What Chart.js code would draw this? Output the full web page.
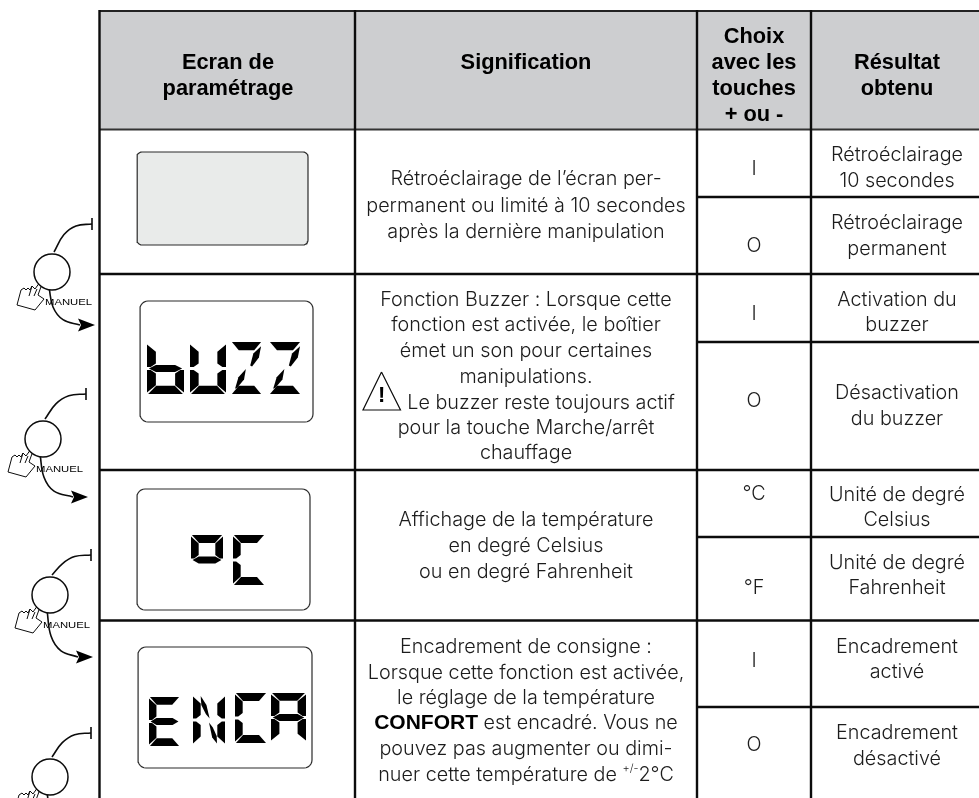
<!DOCTYPE html>
<html>
<head>
<meta charset="utf-8">
<style>html,body{margin:0;padding:0;background:#fff}canvas{display:block}</style>
<script src="https://cdn.jsdelivr.net/npm/chart.js@4"></script>
</head>
<body>
<canvas id="sheet" width="979" height="798"></canvas>
<script>
// table grid
const COL_X = [99.5, 355, 697, 811];
const ROW_Y = [274, 470, 620.5];
const SUB_ROW_Y = [197, 342, 537, 707];

// header
const HEAD_TEXT = ['Ecran de','paramétrage','Signification','Choix','avec les','touches','+ ou -','Résultat','obtenu'];
const HEAD_X = [228,228,526,754,754,754,754,897,897];
const HEAD_Y = [61,87,61,35,61,87,113,61,87];

// body text
const BODY_TEXT = [
  'Rétroéclairage de l’écran per-','permanent ou limité à 10 secondes','après la dernière manipulation',
  'Fonction Buzzer : Lorsque cette','fonction est activée, le boîtier','émet un son pour certaines','manipulations.','Le buzzer reste toujours actif','pour la touche Marche/arrêt','chauffage',
  'Affichage de la température','en degré Celsius','ou en degré Fahrenheit',
  'Encadrement de consigne :','Lorsque cette fonction est activée,','le réglage de la température','pouvez pas augmenter ou dimi-',
  'I','O','I','O','°C','°F','I','O',
  'Rétroéclairage','10 secondes','Rétroéclairage','permanent',
  'Activation du','buzzer','Désactivation','du buzzer',
  'Unité de degré','Celsius','Unité de degré','Fahrenheit',
  'Encadrement','activé','Encadrement','désactivé'
];
const BODY_X = [
  526,526,526,
  526,526,526,526,541,526,526,
  526,526,526,
  526,526,526,526,
  754,754,754,754,754,754,754,754,
  897,897,897,897,
  897,897,897,897,
  897,897,897,897,
  897,897,897,897
];
const BODY_Y = [
  178,205,231,
  299,324,350,376,402,427,452,
  519,545,571,
  646,672,697,748,
  168,245,313,400,493,587,660,744,
  154,180,222,248,
  299,324,392,418,
  494,519,562,587,
  646,671,732,758
];

// LCD screens
const SCREEN_L = [137,140,137,138];
const SCREEN_R = [308,313,310,312];
const SCREEN_T = [152,301,489,647];
const SCREEN_B = [245,422,610,768];
const SCREEN_RADIUS = [5,8,8,8];

const LCD_CHARS = ['b','U','Z','Z','°','C','E','N','C','A'];
const LCD_X = [147,190,231,269,191,233,149,193,235,271];
const LCD_Y = [343,343,342,342,535,535,697,695,693,693];
const LCD_W = [37,36,31,32,32,32,31,32,32,35];
const LCD_H = [51,51,52,52,50,50,49,50,50,49];

const SEG = {
  t:[[.03,0],[.97,0],[.75,.16],[.25,.16]],
  lu:[[0,.03],[.24,.17],[.24,.40],[.1,.47],[0,.47]],
  ll:[[0,.53],[.1,.53],[.24,.6],[.24,.83],[0,.97]],
  ru:[[1,.03],[.76,.17],[.76,.40],[.9,.47],[1,.47]],
  rl:[[1,.53],[.9,.53],[.76,.6],[.76,.83],[1,.97]],
  m:[[.05,.5],[.24,.43],[.76,.43],[.95,.5],[.76,.57],[.24,.57]],
  b:[[.25,.84],[.75,.84],[.97,1],[.03,1]],
  zu:[[.97,.08],[.9,.3],[.68,.47],[.62,.45],[.72,.22]],
  zl:[[.48,.52],[.42,.72],[.2,.88],[.13,.9],[.24,.68]],
  nu:[[.24,.02],[.42,.2],[.52,.47],[.4,.38],[.26,.2]],
  nl:[[.5,.55],[.62,.65],[.74,.82],[.75,.97],[.6,.85]]
};
const GLYPHS = {
  b:['lu','ll','m','b','rl'], U:['lu','ll','b','ru','rl'], Z:['t','zu','zl','b'],
  '°':['t','lu','ru','m'], C:['t','lu','ll','b'], E:['t','lu','m','ll','b'],
  N:['lu','ll','ru','rl','nu','nl'], A:['t','lu','ru','m','ll','rl']
};

// MANUEL knobs on the left
const KNOB_X = [52,43,50,50];
const KNOB_Y = [272,439,595,777];
const KNOB_TOP_DX = [40,43,41,41];
const KNOB_TOP_DY = [-48,-45,-40,-44];
const KNOB_TIP_DX = [43,45,43,43];
const KNOB_TIP_DY = [53,58,62,60];
const KNOB_RADIUS = 18;
const HAND = [[-35,33],[-31,18],[-28,16],[-26,18],[-24,16],[-22,18],[-20,14],[-17,17],[-12,10],[-10,12],[-14,23],[-8,27],[-17,38],[-35,33]];

const INK = '#0c0c0c';
const sets = [];
const addLine = (pts, color, width, extra) => sets.push(Object.assign({
  data: pts.map(p => ({x:p[0], y:p[1]})), borderColor:color, borderWidth:width, pointRadius:0, fill:false, tension:0
}, extra || {}));
const addPoly = (pts, color, stroke, width) => sets.push({
  data: pts.map(p => ({x:p[0], y:p[1]})), backgroundColor:color, fill:'shape',
  borderColor:stroke || color, borderWidth:width || 0, pointRadius:0, tension:0
});

function roundRect(l, t, r, b, rad) {
  const pts = [];
  [[r-rad,t+rad,-90],[r-rad,b-rad,0],[l+rad,b-rad,90],[l+rad,t+rad,180]].forEach(c => {
    for (let a = 0; a <= 90; a += 15) {
      const ang = (c[2]+a)*Math.PI/180;
      pts.push([c[0]+rad*Math.cos(ang), c[1]+rad*Math.sin(ang)]);
    }
  });
  pts.push(pts[0]);
  return pts;
}

// header band first, lines on top
addPoly([[COL_X[0],11],[979,11],[979,129.5],[COL_X[0],129.5]], '#cdced0');
addLine([[COL_X[0],11],[979,11]], '#222', 2.2);
addLine([[COL_X[0],129.5],[979,129.5]], '#333', 2.2);
COL_X.forEach(x => addLine([[x,10],[x,798]], INK, 2.4));
ROW_Y.forEach(y => addLine([[COL_X[0],y],[979,y]], INK, 2.4));
SUB_ROW_Y.forEach(y => addLine([[COL_X[2],y],[979,y]], INK, 2.4));

// screens
SCREEN_L.forEach((l,i) => {
  addPoly(roundRect(l, SCREEN_T[i], SCREEN_R[i], SCREEN_B[i], SCREEN_RADIUS[i]), i === 0 ? '#e9ebea' : '#fff', '#2a2a2a', 1.2);
});
LCD_CHARS.forEach((c,i) => {
  GLYPHS[c].forEach(k => {
    addPoly(SEG[k].map(p => [LCD_X[i]+p[0]*LCD_W[i], LCD_Y[i]+p[1]*LCD_H[i]]), '#000');
  });
});

// warning triangle
addLine([[381.5,372],[400.5,410],[363,410],[381.5,372]], INK, 1.2);

// knobs
KNOB_X.forEach((kx,i) => {
  const ky = KNOB_Y[i], tx = KNOB_TOP_DX[i], ty = KNOB_TOP_DY[i], ax = KNOB_TIP_DX[i], ay = KNOB_TIP_DY[i];
  addLine([[kx+2,ky-20],[kx+tx*.3,ky+ty*.78],[kx+tx*.6,ky+ty*.96],[kx+tx,ky+ty]], INK, 1.6, {tension:.4});
  addLine([[kx+tx,ky+ty-6],[kx+tx,ky+ty+6]], INK, 1.6);
  addLine([[kx-3,ky+15],[kx+1,ky+ay*.66],[kx+11,ky+ay*.9],[kx+ax-15,ky+ay]], INK, 1.6, {tension:.4});
  addPoly([[kx+ax,ky+ay],[kx+ax-17,ky+ay-6.5],[kx+ax-14,ky+ay],[kx+ax-17,ky+ay+6.5]], '#000');
  addLine(HAND.map(p => [kx+p[0],ky+p[1]]), INK, 1);
  addLine([[kx-20,ky+14],[kx-23,ky+24]], INK, 1);
  addLine([[kx-15,ky+17],[kx-18,ky+24]], INK, 1);
  sets.push({data:[{x:kx,y:ky}], pointRadius:KNOB_RADIUS, pointBackgroundColor:'#fff', pointBorderColor:INK, pointBorderWidth:1.5, showLine:false});
});

const BODY_FONT = '300 19.8px Inter';
const HEAD_FONT = 'bold 21.8px "Liberation Sans"';
const BOLD_FONT = 'bold 21px "Liberation Sans"';
const BODY_COLOR = '#1c1c1c';
const TEXT_DY = 1.5;

const textPlugin = {
  id:'tableText',
  afterDatasetsDraw(chart) {
    const {ctx, scales:{x, y}} = chart;
    ctx.save();
    ctx.textBaseline = 'middle';
    ctx.textAlign = 'center';
    ctx.fillStyle = '#000';
    ctx.font = HEAD_FONT;
    HEAD_TEXT.forEach((t,i) => ctx.fillText(t, x.getPixelForValue(HEAD_X[i]), y.getPixelForValue(HEAD_Y[i]+TEXT_DY)));
    ctx.fillStyle = BODY_COLOR;
    ctx.font = BODY_FONT;
    BODY_TEXT.forEach((t,i) => ctx.fillText(t, x.getPixelForValue(BODY_X[i]), y.getPixelForValue(BODY_Y[i]+TEXT_DY)));

    // mixed lines in row 4
    ctx.textAlign = 'left';
    ctx.font = BOLD_FONT;
    const w1 = ctx.measureText('CONFORT').width;
    ctx.font = BODY_FONT;
    const w2 = ctx.measureText(' est encadré. Vous ne').width;
    let px = x.getPixelForValue(526) - (w1+w2)/2;
    ctx.font = BOLD_FONT;
    ctx.fillStyle = '#000';
    ctx.fillText('CONFORT', px, y.getPixelForValue(722+TEXT_DY));
    ctx.font = BODY_FONT;
    ctx.fillStyle = BODY_COLOR;
    ctx.fillText(' est encadré. Vous ne', px+w1, y.getPixelForValue(722+TEXT_DY));

    const a = 'nuer cette température de ', b = '+/-', c = '2°C';
    const wa = ctx.measureText(a).width, wc = ctx.measureText(c).width;
    ctx.font = '300 11px Inter';
    const wb = ctx.measureText(b).width;
    px = x.getPixelForValue(526) - (wa+wb+wc)/2;
    ctx.fillText(b, px+wa, y.getPixelForValue(769));
    ctx.font = BODY_FONT;
    ctx.fillText(a, px, y.getPixelForValue(774+TEXT_DY));
    ctx.fillText(c, px+wa+wb, y.getPixelForValue(774+TEXT_DY));

    // warning mark
    ctx.textAlign = 'center';
    ctx.font = 'bold 22px "Liberation Sans"';
    ctx.fillStyle = '#000';
    ctx.fillText('!', x.getPixelForValue(381.7), y.getPixelForValue(396));

    // MANUEL labels, stretched wide
    ctx.font = '8.5px "Liberation Sans"';
    ctx.textAlign = 'left';
    const natural = ctx.measureText('MANUEL').width;
    KNOB_X.forEach((kx,i) => {
      ctx.save();
      ctx.translate(x.getPixelForValue(kx-7), y.getPixelForValue(KNOB_Y[i]+31));
      ctx.scale(47/natural, 1);
      ctx.fillText('MANUEL', 0, 0);
      ctx.restore();
    });
    ctx.restore();
  }
};

new Chart(document.getElementById('sheet').getContext('2d'), {
  type:'line',
  data:{datasets: sets.reverse()},
  options:{
    responsive:false, animation:false, events:[],
    layout:{padding:0, autoPadding:false},
    plugins:{legend:{display:false}, tooltip:{enabled:false}},
    scales:{
      x:{type:'linear', min:0, max:979, display:false},
      y:{type:'linear', min:0, max:798, reverse:true, display:false}
    }
  },
  plugins:[textPlugin]
});
</script>
</body>
</html>
